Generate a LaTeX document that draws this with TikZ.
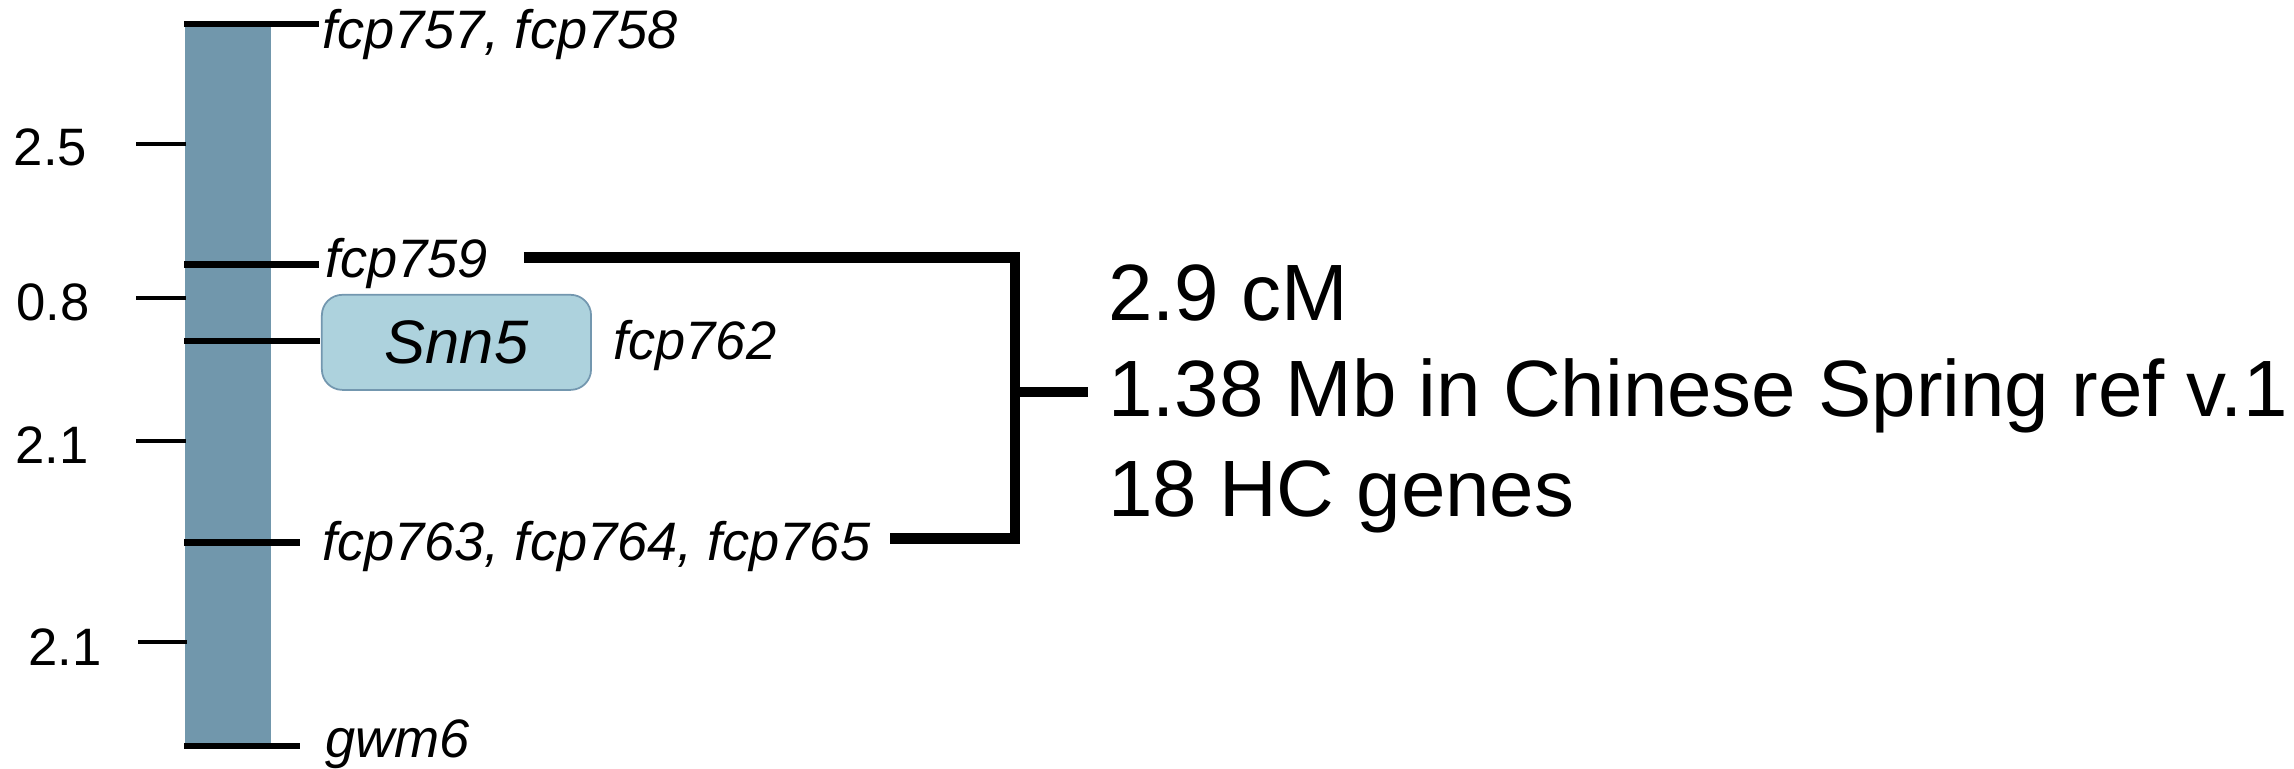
\documentclass[tikz,border=0pt]{standalone}
\usepackage{fontspec}
\setmainfont{Liberation Sans}
\definecolor{barblue}{HTML}{7197AC}
\definecolor{boxfill}{HTML}{ADD2DD}
\definecolor{boxedge}{HTML}{7397AF}
\begin{document}
\begin{tikzpicture}[x=0.5pt,y=-0.5pt,
  axislabel/.style={font=\fontsize{18}{18}\selectfont, inner sep=0pt, anchor=base west},
  marker/.style={font=\fontsize{18.5}{18}\selectfont\itshape, inner sep=0pt, anchor=base west},
  bigtext/.style={font=\fontsize{27.3}{27}\selectfont, inner sep=0pt, anchor=base west},
  majortick/.style={line width=2.2pt},
  minortick/.style={line width=1.4pt},
  bracketline/.style={line width=3.5pt, miter limit=10},
  genebox/.style={draw=boxedge, fill=boxfill, line width=0.6pt, rounded corners=7pt,
    minimum width=92pt, minimum height=32.5pt, inner sep=0pt,
    font=\fontsize{21}{21}\selectfont\itshape}
]
\useasboundingbox (0,0) rectangle (1568,525);

% chromosome bar
\node (bar) [fill=barblue, inner sep=0pt, minimum width=29.5pt, minimum height=246.5pt, anchor=north west] at (126,16.4) {};

% minor ticks (distances)
\coordinate (d1a) at (93,98.4);   \coordinate (d1b) at (127,98.4);
\coordinate (d2a) at (93,203.5);  \coordinate (d2b) at (127,203.5);
\coordinate (d3a) at (93,301.5);  \coordinate (d3b) at (127,301.5);
\coordinate (d4a) at (94.5,439);  \coordinate (d4b) at (128,439);
\draw[minortick] (d1a) -- (d1b);
\draw[minortick] (d2a) -- (d2b);
\draw[minortick] (d3a) -- (d3b);
\draw[minortick] (d4a) -- (d4b);

\node[axislabel] (a25) at (9,113) {2.5};
\node[axislabel] (a08) at (11,219) {0.8};
\node[axislabel] (a21a) at (10,317) {2.1};
\node[axislabel] (a21b) at (19,455) {2.1};

% marker ticks
\coordinate (k1a) at (126,16.4);  \coordinate (k1b) at (218,16.4);
\coordinate (k2a) at (126,180.7); \coordinate (k2b) at (218,180.7);
\coordinate (k3a) at (126,233);   \coordinate (k3b) at (219,233);
\coordinate (k4a) at (126,370.7); \coordinate (k4b) at (205,370.7);
\coordinate (k5a) at (126,510);   \coordinate (k5b) at (205,510);
\draw[majortick] (k1a) -- (k1b);
\draw[majortick] (k2a) -- (k2b);
\draw[majortick] (k3a) -- (k3b);
\draw[majortick] (k4a) -- (k4b);
\draw[majortick] (k5a) -- (k5b);

% marker labels
\node[marker] (m757) at (220,33) {fcp757, fcp758};
\node[marker] (m759) at (222,190) {fcp759};
\node[genebox] (snn5) at (312,234) {Snn5};
\node[marker] (m762) at (419,246) {fcp762};
\node[marker] (m763) at (220,383) {fcp763, fcp764, fcp765};
\node[marker] (gwm6) at (222,518) {gwm6};

% bracket
\coordinate (btop) at (358,176);
\coordinate (bc1) at (694,176);
\coordinate (bc2) at (694,368);
\coordinate (bbot) at (608,368);
\coordinate (bmid) at (694,268);
\coordinate (bstub) at (744,268);
\draw[bracketline] (btop) -- (bc1) -- (bc2) -- (bbot);
\draw[bracketline] (bmid) -- (bstub);

% summary text
\node[bigtext] (l1) at (757,219) {2.9 cM};
\node[bigtext] (l2) at (757,285) {1.38 Mb in Chinese Spring ref v.1};
\node[bigtext] (l3) at (757,353) {18 HC genes};
\end{tikzpicture}
\end{document}
